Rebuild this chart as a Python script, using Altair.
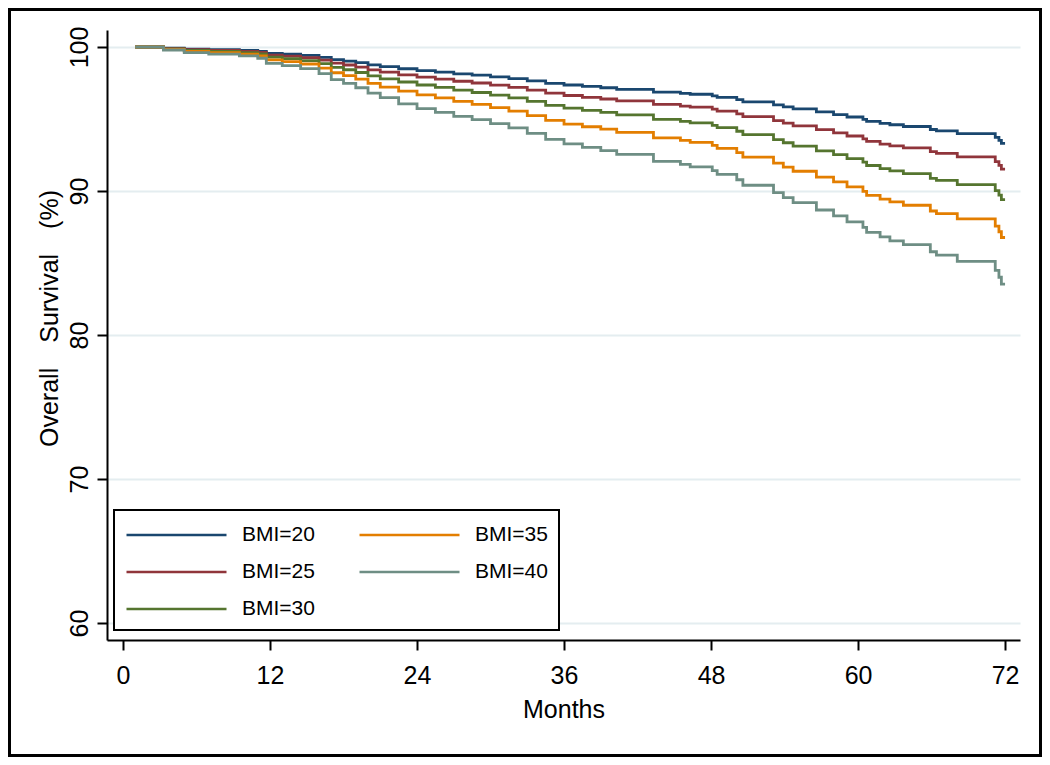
import altair as alt
import pandas as pd

months = [1.0, 3.3, 5.0, 7.0, 9.5, 11.0, 11.7, 13.0, 14.5, 16.0, 17.0, 18.0, 19.0,
          20.0, 21.0, 22.5, 24.0, 25.5, 27.0, 28.5, 30.0, 31.5, 33.0, 34.5, 36.0,
          37.5, 39.0, 40.3, 43.3, 45.5, 46.3, 48.1, 48.5, 50.1, 50.6, 53.1, 53.9,
          54.7, 56.6, 58.0, 59.1, 60.4, 60.7, 61.8, 62.6, 63.7, 65.9, 66.4, 68.1,
          71.2, 71.5, 71.7, 72.0]

bmi20 = [100, 99.92, 99.85, 99.81, 99.76, 99.70, 99.56, 99.50, 99.42, 99.28, 99.12, 99.02, 98.91,
         98.76, 98.63, 98.49, 98.36, 98.26, 98.14, 98.04, 97.92, 97.80, 97.65, 97.48, 97.36,
         97.26, 97.17, 97.06, 96.87, 96.78, 96.72, 96.61, 96.50, 96.35, 96.19, 95.98, 95.84,
         95.70, 95.49, 95.31, 95.14, 94.98, 94.84, 94.70, 94.60, 94.48, 94.27, 94.18, 93.99,
         93.73, 93.52, 93.31, 93.31]
bmi25 = [100, 99.90, 99.81, 99.76, 99.69, 99.62, 99.44, 99.36, 99.26, 99.09, 98.88, 98.75, 98.60,
         98.41, 98.25, 98.07, 97.91, 97.77, 97.62, 97.50, 97.35, 97.20, 97.00, 96.79, 96.63,
         96.50, 96.39, 96.26, 96.01, 95.90, 95.82, 95.68, 95.55, 95.35, 95.16, 94.89, 94.71,
         94.52, 94.26, 94.04, 93.82, 93.62, 93.44, 93.26, 93.14, 92.99, 92.73, 92.61, 92.37,
         92.04, 91.78, 91.52, 91.52]
bmi30 = [100, 99.87, 99.76, 99.69, 99.61, 99.52, 99.29, 99.19, 99.06, 98.84, 98.58, 98.42, 98.23,
         98.00, 97.79, 97.57, 97.36, 97.19, 97.00, 96.84, 96.66, 96.47, 96.22, 95.95, 95.75,
         95.60, 95.46, 95.29, 94.98, 94.84, 94.73, 94.56, 94.40, 94.15, 93.91, 93.57, 93.35,
         93.12, 92.79, 92.52, 92.25, 92.00, 91.77, 91.55, 91.40, 91.21, 90.88, 90.74, 90.44,
         90.03, 89.71, 89.40, 89.40]
bmi35 = [100, 99.84, 99.69, 99.61, 99.51, 99.39, 99.10, 98.98, 98.82, 98.53, 98.21, 98.01, 97.77,
         97.47, 97.21, 96.93, 96.67, 96.46, 96.22, 96.02, 95.79, 95.55, 95.24, 94.91, 94.65,
         94.46, 94.29, 94.07, 93.69, 93.52, 93.38, 93.17, 92.96, 92.66, 92.35, 91.94, 91.66,
         91.37, 90.96, 90.63, 90.29, 89.98, 89.70, 89.43, 89.25, 89.01, 88.61, 88.43, 88.06,
         87.56, 87.17, 86.77, 86.77]
bmi40 = [100, 99.79, 99.61, 99.51, 99.38, 99.22, 98.86, 98.71, 98.50, 98.15, 97.74, 97.48, 97.17,
         96.80, 96.48, 96.05, 95.72, 95.46, 95.18, 94.95, 94.68, 94.39, 94.00, 93.58, 93.27,
         93.03, 92.81, 92.54, 92.06, 91.85, 91.68, 91.42, 91.16, 90.78, 90.40, 89.89, 89.54,
         89.19, 88.68, 88.27, 87.85, 87.47, 87.13, 86.81, 86.53, 86.27, 85.78, 85.55, 85.11,
         84.49, 84.01, 83.53, 83.53]

series_names = ["BMI=20", "BMI=25", "BMI=30", "BMI=35", "BMI=40"]
series_colors = ["#1a476f", "#90353b", "#55752f", "#e37e00", "#6e8e84"]
x_ticks = [0, 12, 24, 36, 48, 60, 72]
y_ticks = [60, 70, 80, 90, 100]
y_title = "Overall\u2003Survival\u2003(%)"

rows = []
for name, vals in zip(series_names, [bmi20, bmi25, bmi30, bmi35, bmi40]):
    for t, v in zip(months, vals):
        rows.append({"month": t, "survival": v, "group": name})
df = pd.DataFrame(rows)

FONT = "Liberation Sans"

lines = alt.Chart(df).mark_line(interpolate="step-after", strokeWidth=2.8, clip=True).encode(
    x=alt.X("month:Q",
            scale=alt.Scale(domain=[-1.306, 73.22], nice=False, zero=False),
            axis=alt.Axis(values=x_ticks, title="Months", grid=False, labelFlush=False,
                          labelPadding=13, titleBaseline="alphabetic", titleY=77,
                          labelOverlap=False)),
    y=alt.Y("survival:Q",
            scale=alt.Scale(domain=[58.82, 101.18], nice=False, zero=False),
            axis=alt.Axis(values=y_ticks, title=y_title, grid=True,
                          gridColor="#e4edf0", gridWidth=2, labelFlush=False,
                          labelAngle=270, labelAlign="center", labelBaseline="alphabetic",
                          labelPadding=10, titleAngle=270, titleAlign="center",
                          titleBaseline="alphabetic", titleX=-50, titleY=288,
                          labelOverlap=False)),
    color=alt.Color("group:N",
                    scale=alt.Scale(domain=series_names, range=series_colors),
                    legend=alt.Legend(orient="none", legendX=7, legendY=480, columns=2,
                                      title=None, symbolType="M-1,0H7", symbolSize=625,
                                      symbolStrokeWidth=2.5, labelOffset=89,
                                      labelFontSize=21, labelFont=FONT, labelColor="black",
                                      columnPadding=39, rowPadding=13, padding=11,
                                      strokeColor="black", fillColor="white")),
)

frame = alt.Chart(pd.DataFrame({"k": [0]})).mark_rect(
    fillOpacity=0, stroke="black", strokeWidth=3, clip=False
).encode(x=alt.value(-97.5), x2=alt.value(933.5), y=alt.value(-20.5), y2=alt.value(725.5))

chart = alt.layer(lines, frame).properties(
    width=913, height=610,
    padding={"left": 99, "top": 22, "right": 22, "bottom": 117},
    autosize=alt.AutoSizeParams(type="none"),
    background="white",
).configure_view(stroke=None).configure_axis(
    domainColor="black", domainWidth=2, tickColor="black", tickWidth=2, tickSize=10,
    labelFont=FONT, labelFontSize=25, labelColor="black",
    titleFont=FONT, titleFontSize=25, titleFontWeight="normal", titleColor="black",
).configure_legend(strokeWidth=2)

chart.save("out.html", embed_options={"renderer": "svg", "actions": False})
